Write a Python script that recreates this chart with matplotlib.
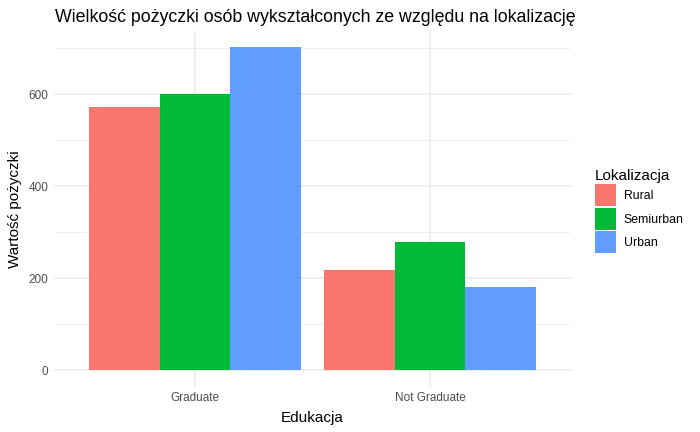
import matplotlib.pyplot as plt
import numpy as np

plt.rcParams['font.family'] = ['Liberation Sans', 'DejaVu Sans']

edukacja = ["Graduate", "Not Graduate"]
lokalizacje = ["Rural", "Semiurban", "Urban"]
kolory = ["#F8766D", "#00BA38", "#619CFF"]
pozyczki = {
    "Rural": [572, 218],
    "Semiurban": [600, 279],
    "Urban": [702, 181],
}

fig = plt.figure(figsize=(7, 4.32), dpi=100)
ax = fig.add_axes([54 / 700, (432 - 386.5) / 432, (571 - 54) / 700, (386.5 - 31) / 432])

x = np.arange(1, len(edukacja) + 1)
w = 0.9 / len(lokalizacje)
handles = []
for i, lok in enumerate(lokalizacje):
    b = ax.bar(x + (i - 1) * w, pozyczki[lok], width=w, color=kolory[i], label=lok, zorder=3)
    handles.append(b)

ymax = max(max(v) for v in pozyczki.values())
ax.set_xlim(0.4, 2.6)
ax.set_ylim(-0.05 * ymax, 1.05 * ymax)
ax.set_xticks(x)
ax.set_xticklabels(edukacja)
ax.set_yticks([0, 200, 400, 600])
ax.set_yticks([100, 300, 500, 700], minor=True)
ax.grid(True, which='major', color='#EBEBEB', linewidth=1.1, zorder=0)
ax.grid(True, which='minor', axis='y', color='#EBEBEB', linewidth=0.55, zorder=0)
ax.tick_params(which='both', length=0, labelsize=8.5, labelcolor='#4D4D4D', pad=4)
for s in ax.spines.values():
    s.set_visible(False)

ax.set_xlabel("Edukacja", fontsize=11, labelpad=5)
ax.set_ylabel("Wartość pożyczki", fontsize=11, labelpad=5)
fig.text(55 / 700, 1 - 18 / 432, "Wielkość pożyczki osób wykształconych ze względu na lokalizację",
         fontsize=12.8, ha='left', va='center')

leg = fig.legend(handles=handles, title="Lokalizacja", loc='upper left',
                 bbox_to_anchor=(590 / 700, 1 - 164 / 432), frameon=False,
                 fontsize=8.8, title_fontsize=11, handlelength=1.75, handleheight=2.4,
                 labelspacing=0.12, handletextpad=0.6, alignment='left', borderaxespad=0)

fig.savefig("out.png", dpi=100)
